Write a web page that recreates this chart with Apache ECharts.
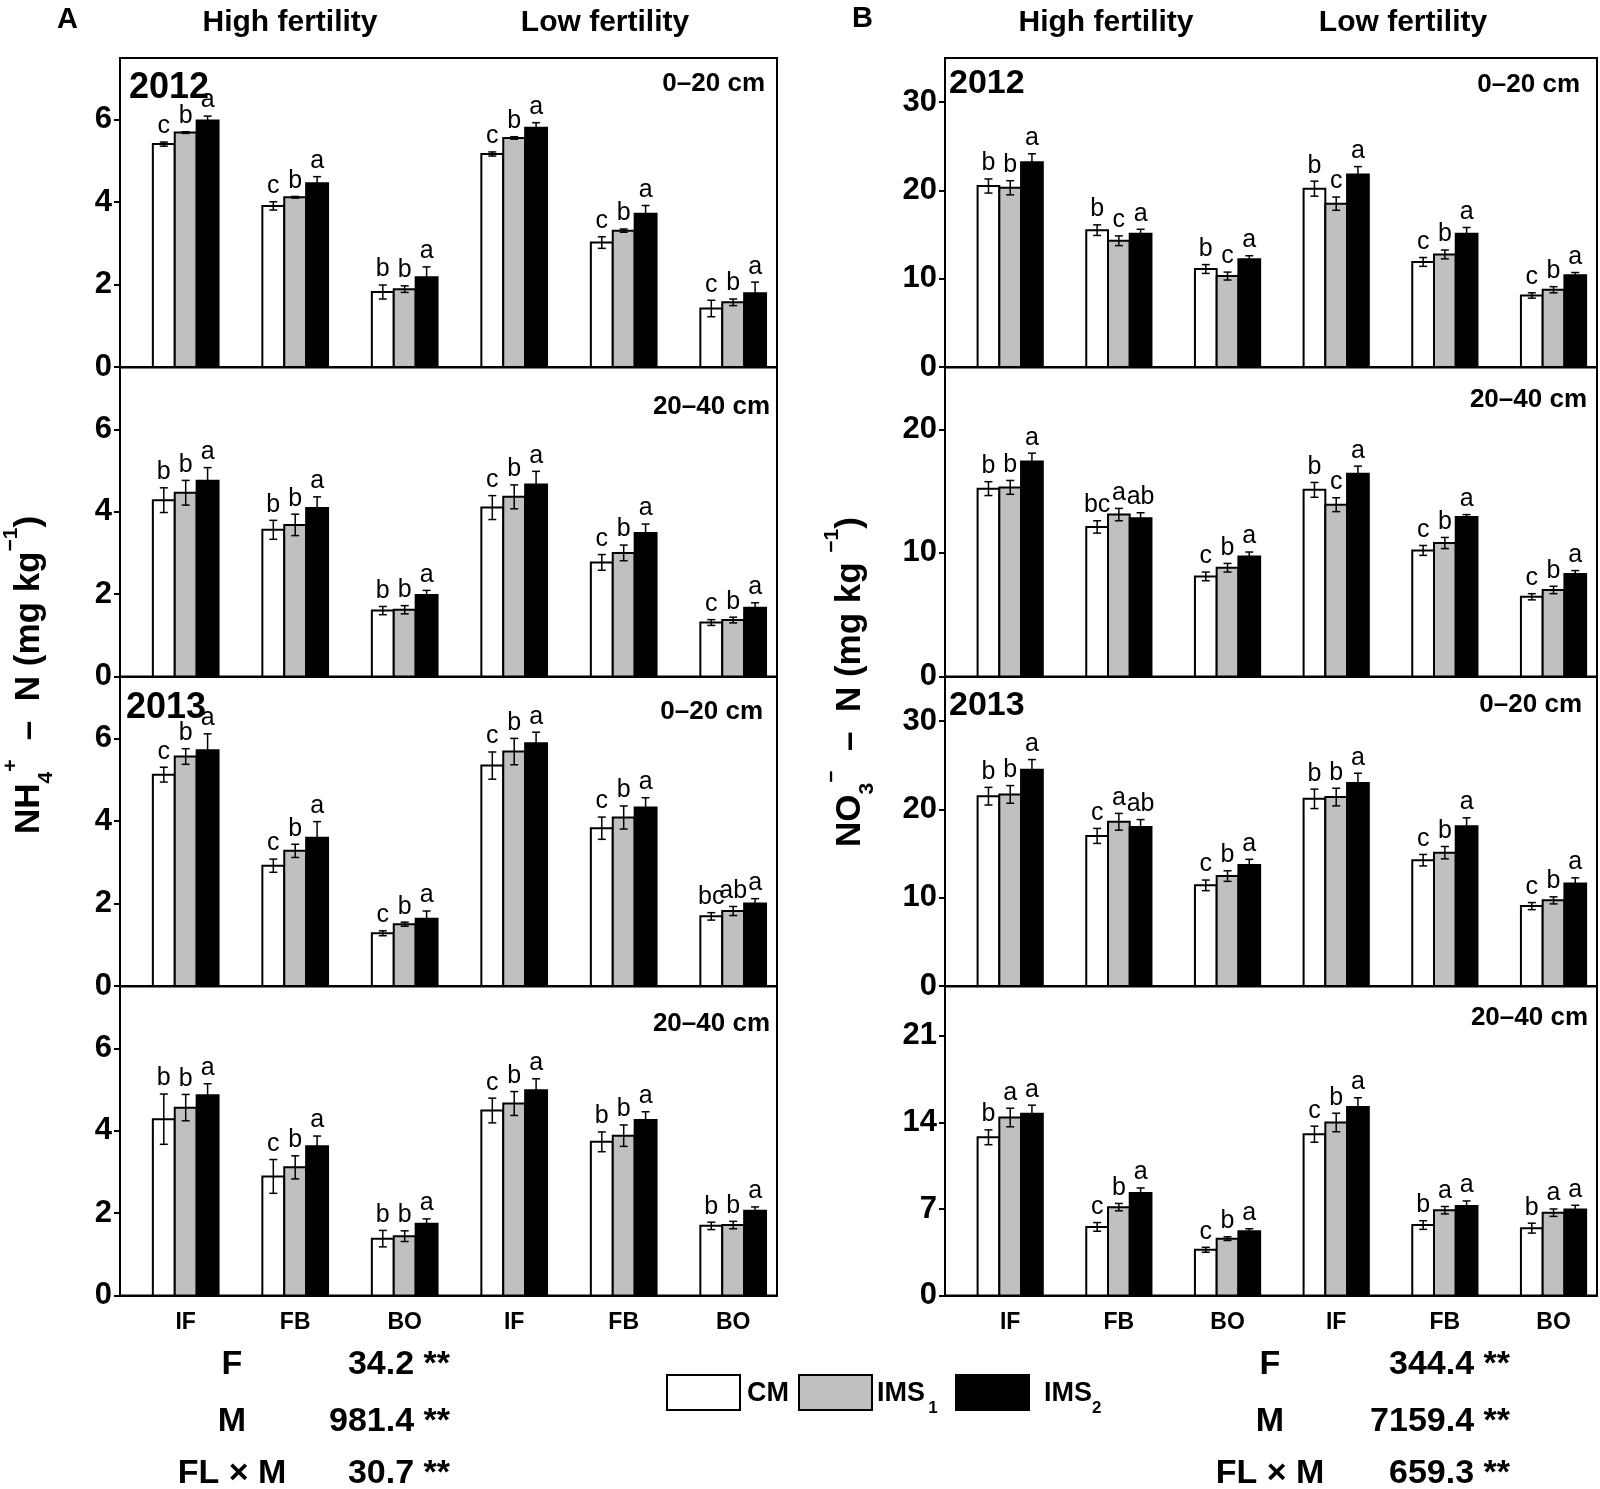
<!DOCTYPE html>
<html><head><meta charset="utf-8">
<script src="https://cdn.jsdelivr.net/npm/echarts@6/dist/echarts.min.js"></script>
<style>html,body{margin:0;padding:0;background:#fff}#c{width:1600px;height:1489px}</style>
</head><body><div id="c"></div>
<script>
// ---------------- DATA ----------------
const categories = ['IF', 'FB', 'BO', 'IF', 'FB', 'BO'];
const treatments = ['CM', 'IMS1', 'IMS2'];

// NH4+-N, 2012, 0-20 cm  (rows: CM, IMS1, IMS2)
const nh4_2012_0_20_mean = [[5.41, 3.91, 1.82, 5.17, 3.02, 1.42], [5.69, 4.12, 1.89, 5.56, 3.31, 1.57], [5.98, 4.46, 2.18, 5.81, 3.72, 1.79]];
const nh4_2012_0_20_err  = [[0.05, 0.10, 0.17, 0.05, 0.14, 0.20], [0.02, 0.02, 0.08, 0.03, 0.04, 0.08], [0.11, 0.16, 0.25, 0.12, 0.20, 0.27]];
const nh4_2012_0_20_sig  = [['c','c','b','c','c','c'], ['b','b','b','b','b','b'], ['a','a','a','a','a','a']];
// NH4+-N, 2012, 20-40 cm
const nh4_2012_20_40_mean = [[4.28, 3.56, 1.60, 4.10, 2.77, 1.31], [4.46, 3.68, 1.62, 4.36, 3.00, 1.37], [4.75, 4.09, 1.98, 4.66, 3.48, 1.67]];
const nh4_2012_20_40_err  = [[0.30, 0.23, 0.10, 0.29, 0.19, 0.07], [0.30, 0.26, 0.10, 0.29, 0.19, 0.07], [0.32, 0.27, 0.11, 0.32, 0.22, 0.12]];
const nh4_2012_20_40_sig  = [['b','b','b','c','c','c'], ['b','b','b','b','b','b'], ['a','a','a','a','a','a']];
// NH4+-N, 2013, 0-20 cm
const nh4_2013_0_20_mean = [[5.13, 2.92, 1.28, 5.35, 3.83, 1.69], [5.57, 3.28, 1.50, 5.69, 4.09, 1.82], [5.72, 3.60, 1.63, 5.89, 4.33, 2.00]];
const nh4_2013_0_20_err  = [[0.18, 0.16, 0.06, 0.33, 0.27, 0.09], [0.19, 0.16, 0.05, 0.32, 0.28, 0.11], [0.40, 0.39, 0.19, 0.27, 0.24, 0.12]];
const nh4_2013_0_20_sig  = [['c','c','c','c','c','bc'], ['b','b','b','b','b','ab'], ['a','a','a','a','a','a']];
// NH4+-N, 2013, 20-40 cm
const nh4_2013_20_40_mean = [[4.28, 2.89, 1.38, 4.49, 3.73, 1.69], [4.56, 3.11, 1.44, 4.66, 3.88, 1.71], [4.86, 3.62, 1.74, 4.98, 4.26, 2.06]];
const nh4_2013_20_40_err  = [[0.61, 0.41, 0.20, 0.30, 0.24, 0.09], [0.32, 0.28, 0.13, 0.29, 0.26, 0.09], [0.28, 0.25, 0.12, 0.28, 0.20, 0.09]];
const nh4_2013_20_40_sig  = [['b','c','b','c','b','b'], ['b','b','b','b','b','b'], ['a','a','a','a','a','a']];

// NO3--N, 2012, 0-20 cm
const no3_2012_0_20_mean = [[20.5, 15.5, 11.1, 20.2, 11.9, 8.1], [20.3, 14.3, 10.3, 18.5, 12.75, 8.75], [23.2, 15.1, 12.2, 21.8, 15.1, 10.4]];
const no3_2012_0_20_err  = [[0.8, 0.6, 0.5, 0.85, 0.5, 0.3], [0.8, 0.55, 0.45, 0.75, 0.5, 0.35], [0.95, 0.5, 0.4, 0.9, 0.7, 0.3]];
const no3_2012_0_20_sig  = [['b','b','b','b','c','c'], ['b','c','c','c','b','b'], ['a','a','a','a','a','a']];
// NO3--N, 2012, 20-40 cm
const no3_2012_20_40_mean = [[15.2, 12.1, 8.1, 15.1, 10.2, 6.45], [15.3, 13.1, 8.8, 13.9, 10.8, 7.0], [17.4, 12.8, 9.7, 16.4, 12.9, 8.3]];
const no3_2012_20_40_err  = [[0.56, 0.5, 0.35, 0.6, 0.4, 0.25], [0.56, 0.5, 0.35, 0.56, 0.45, 0.3], [0.67, 0.45, 0.37, 0.62, 0.2, 0.27]];
const no3_2012_20_40_sig  = [['b','bc','c','b','c','c'], ['b','a','b','c','b','b'], ['a','ab','a','a','a','a']];
// NO3--N, 2013, 0-20 cm
const no3_2013_0_20_mean = [[21.5, 17.0, 11.4, 21.2, 14.25, 9.05], [21.7, 18.6, 12.45, 21.4, 15.1, 9.7], [24.5, 18.0, 13.7, 23.0, 18.1, 11.6]];
const no3_2013_0_20_err  = [[1.0, 0.85, 0.6, 1.1, 0.65, 0.4], [1.0, 0.95, 0.6, 1.0, 0.7, 0.4], [1.15, 0.85, 0.65, 1.1, 0.95, 0.65]];
const no3_2013_0_20_sig  = [['b','c','c','b','c','c'], ['b','a','b','b','b','b'], ['a','ab','a','a','a','a']];
// NO3--N, 2013, 20-40 cm
const no3_2013_20_40_mean = [[12.8, 5.55, 3.7, 13.05, 5.7, 5.45], [14.4, 7.15, 4.6, 14.0, 6.9, 6.7], [14.7, 8.3, 5.2, 15.25, 7.25, 6.95]];
const no3_2013_20_40_err  = [[0.6, 0.35, 0.2, 0.65, 0.35, 0.4], [0.75, 0.3, 0.15, 0.75, 0.3, 0.3], [0.7, 0.4, 0.2, 0.75, 0.4, 0.35]];
const no3_2013_20_40_sig  = [['b','c','c','c','b','b'], ['a','b','b','b','a','a'], ['a','a','a','a','a','a']];

// y-axis ticks
const nh4Ticks = {max: 7.5, interval: 2};
const no3TicksTop = {max: 35, interval: 10};
const no3Ticks2012Deep = {max: 25, interval: 10};
const no3Ticks2013Deep = {max: 25, interval: 7};

// ANOVA statistics
const statLabels = ['F', 'M', 'FL × M'];
const nh4Stats = ['34.2 **', '981.4 **', '30.7 **'];
const no3Stats = ['344.4 **', '7159.4 **', '659.3 **'];

// ---------------- LAYOUT / STYLE ----------------
const FONT = '"Liberation Sans", Arial, Helvetica, sans-serif';
const FILL = ['#ffffff', '#c0c0c0', '#000000'];
const BAR_W = 0.2;
const BAR_OFF = [-0.2, 0, 0.2];
const COL_LEFT = [120, 945];
const COL_WIDTH = [657, 652];
const ROW_TOP = [58, 367.5, 677, 986.5];
const ROW_H = 309;

const panels = [
  {col: 0, row: 0, mean: nh4_2012_0_20_mean, err: nh4_2012_0_20_err, sig: nh4_2012_0_20_sig, ticks: nh4Ticks},
  {col: 0, row: 1, mean: nh4_2012_20_40_mean, err: nh4_2012_20_40_err, sig: nh4_2012_20_40_sig, ticks: nh4Ticks},
  {col: 0, row: 2, mean: nh4_2013_0_20_mean, err: nh4_2013_0_20_err, sig: nh4_2013_0_20_sig, ticks: nh4Ticks},
  {col: 0, row: 3, mean: nh4_2013_20_40_mean, err: nh4_2013_20_40_err, sig: nh4_2013_20_40_sig, ticks: nh4Ticks},
  {col: 1, row: 0, mean: no3_2012_0_20_mean, err: no3_2012_0_20_err, sig: no3_2012_0_20_sig, ticks: no3TicksTop},
  {col: 1, row: 1, mean: no3_2012_20_40_mean, err: no3_2012_20_40_err, sig: no3_2012_20_40_sig, ticks: no3Ticks2012Deep},
  {col: 1, row: 2, mean: no3_2013_0_20_mean, err: no3_2013_0_20_err, sig: no3_2013_0_20_sig, ticks: no3TicksTop},
  {col: 1, row: 3, mean: no3_2013_20_40_mean, err: no3_2013_20_40_err, sig: no3_2013_20_40_sig, ticks: no3Ticks2013Deep}
];

const grids = [], xAxes = [], yAxes = [], series = [];
panels.forEach((p, k) => {
  grids.push({
    left: COL_LEFT[p.col], top: ROW_TOP[p.row], width: COL_WIDTH[p.col], height: ROW_H,
    show: true, borderColor: '#000', borderWidth: 2, backgroundColor: 'transparent'
  });
  xAxes.push({
    type: 'value', gridIndex: k, min: -0.6, max: 5.4,
    axisLine: {show: true, onZero: false, lineStyle: {color: '#000', width: 2}},
    axisTick: {show: false}, splitLine: {show: false},
    axisLabel: {
      show: p.row === 3, margin: 16, color: '#000', fontFamily: FONT, fontWeight: 'bold', fontSize: 23,
      formatter: v => (Number.isInteger(v) && v >= 0 && v < categories.length) ? categories[v] : ''
    }
  });
  yAxes.push({
    type: 'value', gridIndex: k, min: 0, max: p.ticks.max, interval: p.ticks.interval,
    axisLine: {show: true, onZero: false, lineStyle: {color: '#000', width: 2}},
    axisTick: {show: true, length: 6, lineStyle: {color: '#000', width: 2}},
    splitLine: {show: false},
    axisLabel: {showMaxLabel: false, margin: 8, color: '#000', fontFamily: FONT, fontWeight: 'bold', fontSize: 31}
  });
  for (let t = 0; t < 3; t++) {
    const mean = p.mean[t], err = p.err[t], sig = p.sig[t];
    series.push({
      type: 'custom', name: treatments[t], xAxisIndex: k, yAxisIndex: k,
      data: categories.map((c, i) => [i, mean[i], err[i]]),
      encode: {x: 0, y: 1},
      renderItem: function (params, api) {
        const i = params.dataIndex;
        const x = api.value(0) + BAR_OFF[t];
        const v = api.value(1), e = api.value(2);
        const a = api.coord([x - BAR_W / 2, 0]);
        const b = api.coord([x + BAR_W / 2, v]);
        const cx = api.coord([x, 0])[0];
        const yt = api.coord([x, v + e])[1];
        const yb = api.coord([x, v - e])[1];
        const es = {stroke: '#000', lineWidth: 1.5};
        return {
          type: 'group', children: [
            {type: 'rect', shape: {x: a[0], y: b[1], width: b[0] - a[0], height: a[1] - b[1]},
             style: {fill: FILL[t], stroke: '#000', lineWidth: 2}},
            {type: 'line', shape: {x1: cx, y1: yt, x2: cx, y2: yb}, style: es},
            {type: 'line', shape: {x1: cx - 4, y1: yt, x2: cx + 4, y2: yt}, style: es},
            {type: 'line', shape: {x1: cx - 4, y1: yb, x2: cx + 4, y2: yb}, style: es},
            {type: 'text', x: cx, y: yt - 3,
             style: {text: sig[i], font: '25px ' + FONT, fill: '#000',
                     textAlign: 'center', align: 'center', textVerticalAlign: 'bottom', verticalAlign: 'bottom'}}
          ]
        };
      }
    });
  }
});

// ---------------- TEXT ----------------
function txt(x, y, text, size, align, weight, extra) {
  return Object.assign({
    type: 'text', x: x, y: y, silent: true,
    style: {text: text, font: (weight || 'bold') + ' ' + size + 'px ' + FONT, fill: '#000',
            textAlign: align || 'left', align: align || 'left', textVerticalAlign: 'middle', verticalAlign: 'middle'}
  }, extra || {});
}
const g = [];
g.push(txt(57, 20, 'A', 29, 'left'));
g.push(txt(852, 19, 'B', 29, 'left'));
g.push(txt(290, 23, 'High fertility', 30, 'center'));
g.push(txt(605, 23, 'Low fertility', 30, 'center'));
g.push(txt(1106, 23, 'High fertility', 30, 'center'));
g.push(txt(1403, 23, 'Low fertility', 30, 'center'));
g.push(txt(129, 88, '2012', 36, 'left'));
g.push(txt(126, 708, '2013', 36, 'left'));
g.push(txt(949, 84, '2012', 34, 'left'));
g.push(txt(949, 706, '2013', 34, 'left'));
g.push(txt(765, 84, '0–20 cm', 26, 'right'));
g.push(txt(770, 407, '20–40 cm', 26, 'right'));
g.push(txt(763, 712, '0–20 cm', 26, 'right'));
g.push(txt(770, 1024, '20–40 cm', 26, 'right'));
g.push(txt(1580, 85, '0–20 cm', 26, 'right'));
g.push(txt(1587, 400, '20–40 cm', 26, 'right'));
g.push(txt(1582, 705, '0–20 cm', 26, 'right'));
g.push(txt(1588, 1018, '20–40 cm', 26, 'right'));

// stats
const statY = [1365, 1422, 1474];
statLabels.forEach((s, i) => {
  g.push(txt(232, statY[i], s, 34, 'center'));
  g.push(txt(450, statY[i], nh4Stats[i], 34, 'right'));
  g.push(txt(1270, statY[i], s, 34, 'center'));
  g.push(txt(1510, statY[i], no3Stats[i], 34, 'right'));
});

// legend
const legendRich = {
  m: {fontSize: 27, fontWeight: 'bold', fontFamily: FONT, fill: '#000', color: '#000', lineHeight: 27, verticalAlign: 'middle'},
  s: {fontSize: 17, fontWeight: 'bold', fontFamily: FONT, fill: '#000', color: '#000', lineHeight: 46, verticalAlign: 'bottom'}
};
const legendItems = [
  {x: 667, tx: 747, label: '{m|CM}'},
  {x: 799, tx: 877, label: '{m|IMS} {s|1}'},
  {x: 956, tx: 1044, label: '{m|IMS}{s|2}'}
];
legendItems.forEach((it, t) => {
  g.push({type: 'rect', shape: {x: it.x, y: 1375, width: 73, height: 35},
          style: {fill: FILL[t], stroke: '#000', lineWidth: 2}});
  g.push({type: 'text', x: it.tx, y: 1394, silent: true,
          style: {text: it.label, rich: legendRich, textAlign: 'left', align: 'left',
                  textVerticalAlign: 'middle', verticalAlign: 'middle'}});
});

// y-axis titles
const yRich = {
  n: {fontSize: 35, fontWeight: 'bold', fontFamily: FONT, fill: '#000', color: '#000', lineHeight: 35, verticalAlign: 'middle'},
  sub: {fontSize: 21, fontWeight: 'bold', fontFamily: FONT, fill: '#000', color: '#000', lineHeight: 56, verticalAlign: 'bottom'},
  sup: {fontSize: 21, fontWeight: 'bold', fontFamily: FONT, fill: '#000', color: '#000', lineHeight: 56, verticalAlign: 'top'}
};
g.push({type: 'text', x: 29, y: 675, rotation: Math.PI / 2, silent: true,
        style: {text: '{n|NH}{sub|4}{sup|+}{n|  –  N (mg kg}{sup|−1}{n|)}', rich: yRich,
                textAlign: 'center', align: 'center', textVerticalAlign: 'middle', verticalAlign: 'middle'}});
g.push({type: 'text', x: 850, y: 682, rotation: Math.PI / 2, silent: true,
        style: {text: '{n|NO}{sub|3}{sup|−}{n|  –  N (mg kg }{sup|−1}{n|)}', rich: yRich,
                textAlign: 'center', align: 'center', textVerticalAlign: 'middle', verticalAlign: 'middle'}});

const chart = echarts.init(document.getElementById('c'), null, {renderer: 'canvas'});
chart.setOption({
  animation: false,
  backgroundColor: '#ffffff',
  grid: grids, xAxis: xAxes, yAxis: yAxes, series: series,
  graphic: {elements: g}
});
</script>
</body></html>
